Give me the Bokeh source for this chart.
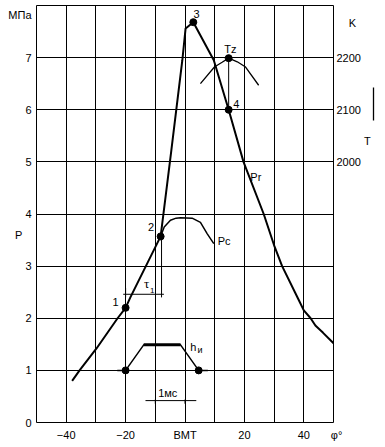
from bokeh.plotting import figure
from bokeh.models import Range1d, LinearAxis, FixedTicker, Label
from bokeh.embed import file_html
from bokeh.resources import INLINE

# ---------------- data ----------------
angle_main = [-38, -35.5, -29.8, -22.7, -20, -18.4, -8.2, -4.6, -0.9, 0.2, 2.8,
              9.7, 14.7, 19.7, 26.5, 30, 32.7, 38.3, 40, 42.3, 43.9, 46.5, 50]
p_main = [0.8, 1.0, 1.42, 2.0, 2.2, 2.4, 3.57, 5.22, 6.95, 7.56, 7.68,
          6.95, 6.0, 5.0, 4.0, 3.4, 3.0, 2.35, 2.15, 2.0, 1.86, 1.72, 1.52]

angle_pc = [-8.2, -7.0, -4.9, -3.0, -1.5, 2.4, 5.2, 7.5, 9.7]
p_pc = [3.57, 3.75, 3.88, 3.92, 3.93, 3.92, 3.84, 3.62, 3.43]

angle_tz = [5.2, 9.9, 12.5, 14.7, 17.6, 20.4, 24.8]
t_tz = [2150, 2182, 2191, 2199, 2192, 2182, 2147]

angle_h = [-22.8, -20, -13.9, -1.5, 4.6, 7.7]
h_lift = [1.0, 1.0, 1.49, 1.49, 1.0, 1.0]

point_names = ["1", "2", "3", "4"]
point_angle = [-20, -8.2, 2.8, 14.7]
point_p = [2.2, 3.57, 7.68, 6.0]
tz_angle = 14.7
tz_temp = 2199
h_point_angle = [-20, 4.6]
h_point_val = [1.0, 1.0]

NB = "\u00a0"
x_ticks = [-40, -20, 0, 20, 40, 50]
x_tick_labels = {0: "ВМТ", 50: NB + NB + "φ°"}
y_ticks = [0, 1, 2, 3, 4, 5, 6, 7, 7.81, 3.59]
y_tick_labels = {7.81: "МПа", 3.59: "P" + NB * 3}
t_ticks = [2000, 2100, 2200, 2266, 2041]
t_tick_labels = {2266: NB * 4 + "K", 2041: NB * 9 + "T"}
t_arrow_span = (2079, 2143)   # the upward T marker beside the right axis

tau_span = [-20.8, -7.1]     # τ1 dimension line (deg)
tau_level = 2.46
ms_span = [-13.3, 3.8]       # 1 ms scale bar (deg)
ms_marks = [-10, 0]
ms_level = 0.42

FONT = "Liberation Sans"
SERIF = "Liberation Serif"

p = figure(width=385, height=447, x_range=Range1d(-50, 50), y_range=Range1d(0, 8),
           output_backend="svg", toolbar_location=None,
           min_border_left=36, min_border_right=52, min_border_top=5, min_border_bottom=25)
p.background_fill_color = "white"
p.border_fill_color = "white"
p.outline_line_color = "black"
p.outline_line_width = 1
p.outline_line_alpha = 1

p.extra_y_ranges = {"T": Range1d(1500, 2300)}

# axes
p.xaxis.ticker = FixedTicker(ticks=x_ticks)
p.xaxis.major_label_overrides = x_tick_labels
p.yaxis.ticker = FixedTicker(ticks=y_ticks)
p.yaxis.major_label_overrides = y_tick_labels
for ax in p.xaxis + p.yaxis:
    ax.axis_line_color = None
    ax.major_tick_line_color = None
    ax.minor_tick_line_color = None
    ax.major_tick_out = 0
    ax.major_tick_in = 0
    ax.major_label_text_font = FONT
    ax.major_label_text_font_size = "11px"
    ax.major_label_text_color = "black"
p.xaxis.major_label_standoff = 6
p.yaxis.major_label_standoff = 5

rax = LinearAxis(y_range_name="T", ticker=FixedTicker(ticks=t_ticks))
rax.major_label_overrides = t_tick_labels
rax.axis_line_color = None
rax.minor_tick_line_color = None
rax.major_tick_line_color = None
rax.major_tick_out = 0
rax.major_tick_in = 0
rax.major_label_standoff = 3
rax.major_label_text_font = FONT
rax.major_label_text_font_size = "11px"
rax.major_label_text_color = "black"
p.add_layout(rax, "right")

# thin vertical marker line beside "T" (an axis line limited by bounds)
tax = LinearAxis(y_range_name="T", ticker=FixedTicker(ticks=[]), bounds=t_arrow_span)
tax.axis_line_color = "black"
tax.axis_line_width = 1.3
tax.major_tick_line_color = None
tax.minor_tick_line_color = None
tax.major_tick_out = 0
tax.major_tick_in = 0
tax.major_label_standoff = 0
tax.major_label_text_font_size = "1px"
p.add_layout(tax, "right")

# grid
p.xgrid.ticker = FixedTicker(ticks=list(range(-40, 50, 10)))
p.ygrid.ticker = FixedTicker(ticks=[1, 2, 3, 4, 5, 6, 7])
p.grid.grid_line_color = "black"
p.grid.grid_line_alpha = 1
p.grid.grid_line_width = 1

# curves
p.line(angle_main, p_main, line_width=2, color="black")
p.line(angle_pc, p_pc, line_width=1.5, color="black")
p.line(angle_tz, t_tz, y_range_name="T", line_width=1.3, color="black")
p.line(angle_h, h_lift, line_width=1.5, color="black")
p.line(angle_h[2:4], h_lift[2:4], line_width=3, color="black")

# points
p.scatter(point_angle, point_p, size=7, color="black")
p.scatter([tz_angle], [tz_temp], y_range_name="T", size=7, color="black")
p.scatter(h_point_angle, h_point_val, size=7, color="black")

# Tz -> 4 vertical
p.segment(x0=[point_angle[3]], y0=[point_p[3]], x1=[tz_angle], y1=[(tz_temp - 1500) / 100],
          line_width=1, color="black")

# τ1 dimension
p.segment(x0=[tau_span[0]], y0=[tau_level], x1=[tau_span[1]], y1=[tau_level], line_width=1, color="black")
p.segment(x0=[point_angle[1] + 0.3], y0=[point_p[1]], x1=[point_angle[1] + 0.3], y1=[tau_level - 0.06],
          line_width=1, color="black")
p.segment(x0=[point_angle[0]], y0=[tau_level - 0.06], x1=[point_angle[0]], y1=[tau_level + 0.12],
          line_width=1, color="black")

# 1 ms bar
p.segment(x0=[ms_span[0]], y0=[ms_level], x1=[ms_span[1]], y1=[ms_level], line_width=1, color="black")
p.segment(x0=ms_marks, y0=[ms_level - 0.06] * 2, x1=ms_marks, y1=[ms_level + 0.02] * 2,
          line_width=1, color="black")


def lab(x, y, text, size="11px", align="center", font=FONT, **kw):
    p.add_layout(Label(x=x, y=y, text=text, text_font=font, text_font_size=size,
                       text_align=align, text_baseline="middle", text_color="black", **kw))


lab(-23.4, 2.31, point_names[0])
lab(-11.4, 3.76, point_names[1])
lab(3.9, 7.84, point_names[2])
lab(17.3, 6.11, point_names[3])
lab(15.3, 7.17, "Tz")
lab(22.0, 4.71, "Pr", align="left")
lab(11.0, 3.49, "Pc", align="left")
lab(-12.96, 2.66, "τ", size="13px", font=SERIF)
lab(-11.0, 2.53, "1", size="8px")
lab(1.8, 1.45, "h", align="left")
lab(4.2, 1.39, "и", size="9px", align="left")
lab(-5.8, 0.56, "1мс")

open("out.html", "w").write(file_html(p, INLINE))
